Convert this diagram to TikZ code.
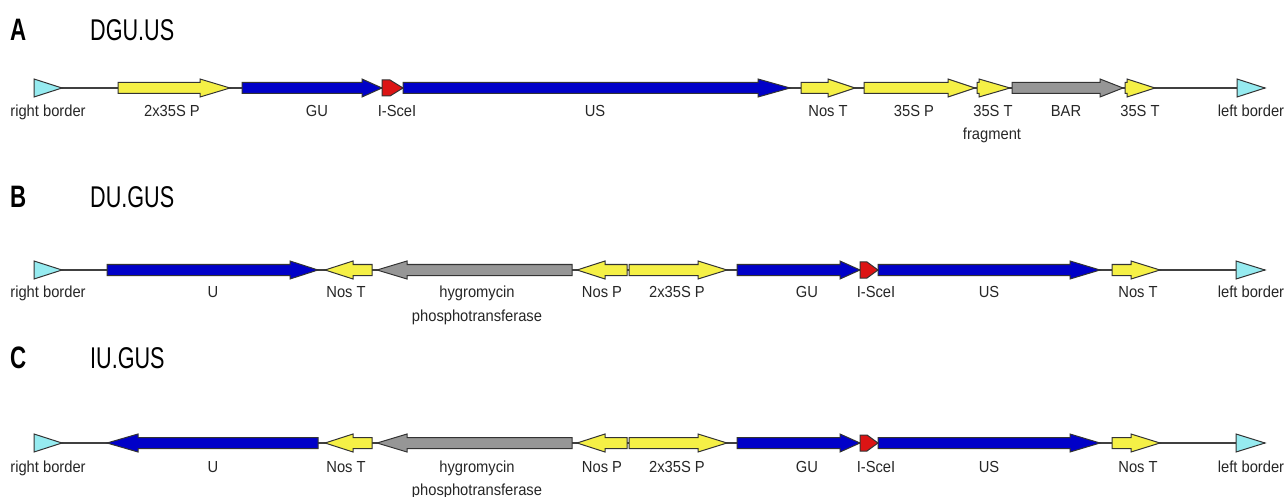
\documentclass[tikz,border=0pt]{standalone}
\usepackage{fontspec}
\setmainfont{Liberation Sans}
\newfontfamily\titlefont[FakeStretch=0.72]{Liberation Sans}
\newfontfamily\labelfont[FakeStretch=0.92]{Liberation Sans}
\definecolor{cdsblue}{RGB}{0,0,200}
\definecolor{regyellow}{RGB}{245,240,70}
\definecolor{markgray}{RGB}{150,150,150}
\definecolor{bordercyan}{RGB}{150,235,240}
\definecolor{scered}{RGB}{220,20,20}
\tikzset{
	feat/.style={draw=black!80, line width=1pt, line join=miter},
	backbone/.style={draw=black!75, line width=1.4pt},
	lab/.style={anchor=base, inner sep=0pt, text=black!85, font=\labelfont\fontsize{16}{18}\selectfont},
	ttl/.style={anchor=west, inner sep=0pt, font=\titlefont\fontsize{30}{36}\selectfont},
	ttlbold/.style={ttl, font=\titlefont\bfseries\fontsize{31}{36}\selectfont}
}
\begin{document}
\begin{tikzpicture}[x=1pt, y=-1pt]
		\useasboundingbox (0,0) rectangle (1288,497);
		\node[ttlbold] (ttlA) at (10,30) {A};
		\node[ttl] (nameA) at (90,30) {DGU.US};
		\node[ttlbold] (ttlB) at (10,197) {B};
		\node[ttl] (nameB) at (90,197) {DU.GUS};
		\node[ttlbold] (ttlC) at (10,358) {C};
		\node[ttl] (nameC) at (90,358) {IU.GUS};
		\foreach \y in {88, 270, 443}
			\draw[backbone] (34,\y) -- (1265,\y);
		\foreach \a/\b/\c/\col in {34/34/62/bordercyan, 118/200/230/regyellow, 242/362/382/cdsblue, 403/758/790/cdsblue, 801/828/855/regyellow, 864/948/975/regyellow, 977/979/1010/regyellow, 1012/1100/1123/markgray, 1125/1127/1155/regyellow, 1237/1237/1265/bordercyan}
			\filldraw[feat, fill=\col] (\a,82.5) -- (\b,82.5) -- (\b,79) -- (\c,88) -- (\b,97) -- (\b,93.5) -- (\a,93.5) -- cycle;
		\foreach \y in {270, 443}
		{
			\foreach \a/\b/\c/\col in {34/34/62/bordercyan, 372/353/325/regyellow, 572/407/377/markgray, 627/605/577/regyellow, 629/698/727/regyellow, 737/840/860/cdsblue, 878/1070/1100/cdsblue, 1112/1131/1160/regyellow, 1236/1236/1265/bordercyan}
				\filldraw[feat, fill=\col] (\a,\y-5.5) -- (\b,\y-5.5) -- (\b,\y-9) -- (\c,\y) -- (\b,\y+9) -- (\b,\y+5.5) -- (\a,\y+5.5) -- cycle;
			\filldraw[feat, fill=scered] (860,\y-8) -- (867,\y-8) -- (878,\y) -- (867,\y+8) -- (860,\y+8) -- cycle;
		}
		\filldraw[feat, fill=scered] (382,80) -- (390,80) -- (403,88) -- (390,96) -- (382,96) -- cycle;
		\filldraw[feat, fill=cdsblue] (107,264.5) -- (290,264.5) -- (290,261) -- (318,270) -- (290,279) -- (290,275.5) -- (107,275.5) -- cycle;
		\filldraw[feat, fill=cdsblue] (318,437.5) -- (138,437.5) -- (138,434) -- (107,443) -- (138,452) -- (138,448.5) -- (318,448.5) -- cycle;
		\foreach \x/\t [count=\k] in {48/right border, 172/2x35S P, 317/GU, 397/I-SceI, 595/US, 828/Nos T, 914/35S P, 993/35S T, 1066/BAR, 1140/35S T, 1251/left border}
			\node[lab] (labA\k) at (\x,117) {\t};
		\node[lab] (fragA) at (992,140) {fragment};
		\foreach \y/\r in {298/B, 472/C}
		{
			\foreach \x/\t [count=\k] in {48/right border, 213/U, 346/Nos T, 477/hygromycin, 602/Nos P, 677/2x35S P, 807/GU, 876/I-SceI, 989/US, 1138/Nos T, 1251/left border}
				\node[lab] (lab\r\k) at (\x,\y) {\t};
			\node[lab] (hph\r) at (477,\y+23) {phosphotransferase};
		}
	\end{tikzpicture}
\end{document}
